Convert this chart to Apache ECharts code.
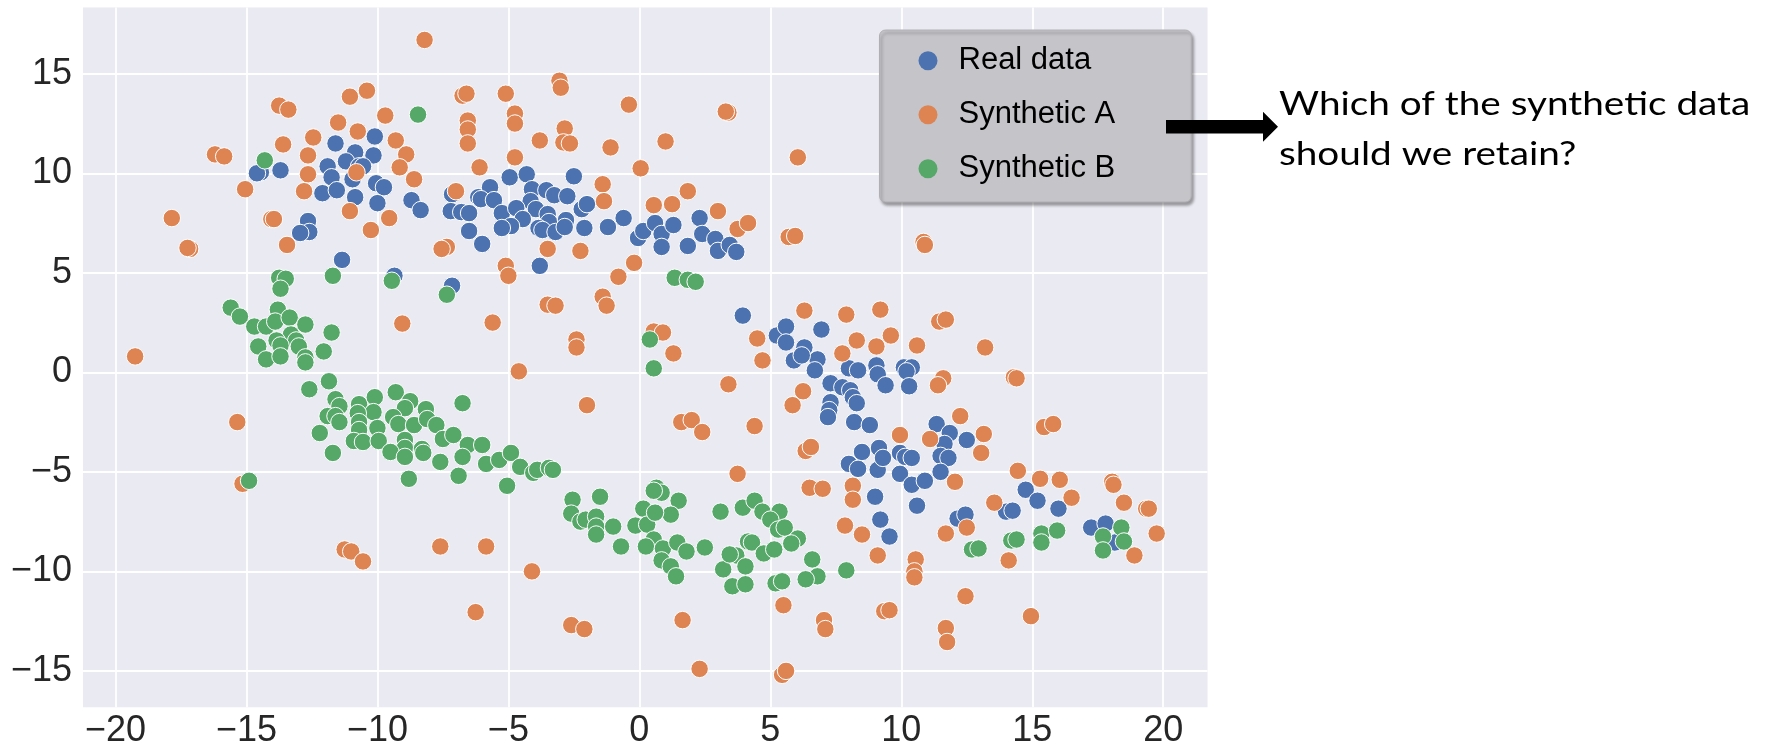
<!DOCTYPE html>
<html>
<head>
<meta charset="utf-8">
<script src="https://cdn.jsdelivr.net/npm/echarts@6/dist/echarts.min.js"></script>
<style>
html,body{margin:0;padding:0;background:#fff;}
#chart{width:1773px;height:750px;}
</style>
</head>
<body>
<div id="chart"></div>
<script>
// ---- data ----
const seriesNames = ['Real data', 'Synthetic A', 'Synthetic B'];
const xTicks = [-20, -15, -10, -5, 0, 5, 10, 15, 20];
const yTicks = [-15, -10, -5, 0, 5, 10, 15];

const realData = [
[-10.1,11.85],[-11.6,11.5],[-10.85,11.05],[-10.15,10.9],[-11.2,10.6],[-11.9,10.35],[-10.7,10.35],[-10.55,10.35],[-14.45,10.05],[-14.6,10.0],[-13.7,10.15],[-11.75,9.8],[-10.95,9.7],[-10.05,9.5],[-9.75,9.3],[-12.1,9.0],[-11.55,9.15],[-10.85,8.8],[-10.0,8.5],[-8.7,8.65],[-8.35,8.15],[-7.15,8.95],[-7.2,8.1],[-6.8,8.05],[-6.5,8.0],[-6.15,8.8],[-6.5,7.1],[-6.0,6.45],[-12.65,7.6],[-12.6,7.05],[-12.95,7.0],[-11.35,5.65],[-9.35,4.85],[-7.15,4.35],
[-2.5,9.85],[-4.95,9.8],[-4.3,9.95],[-5.7,9.3],[-6.05,8.7],[-5.55,8.65],[-4.1,9.2],[-3.55,9.15],[-3.25,8.9],[-4.15,8.6],[-3.95,8.2],[-2.75,8.85],[-5.25,8.0],[-4.7,8.25],[-4.45,7.7],[-4.9,7.35],[-5.25,7.25],[-3.5,7.95],[-3.45,7.55],[-3.85,7.25],[-3.7,7.15],[-3.2,7.05],[-2.8,7.65],[-2.85,7.3],[-2.2,8.2],[-2.0,8.45],[-2.1,7.25],[-1.2,7.3],[-0.6,7.75],[-3.8,5.35],[-0.05,6.75],[0.15,7.1],[0.6,7.5],[0.85,6.95],[0.85,6.3],[1.3,7.4],[1.85,6.35],[2.3,7.75],[2.4,6.95],[2.9,6.7],[3.0,6.1],[3.45,6.4],[3.7,6.05],
[3.95,2.85],[5.25,1.85],[5.6,2.3],[5.6,1.5],[6.3,1.25],[6.95,2.15],[5.9,0.6],[6.8,0.65],[6.7,0.1],[8.0,0.2],[8.35,0.1],[6.2,0.85],[7.3,-0.55],[7.75,-0.75],[8.05,-0.9],[8.15,-1.25],[8.3,-1.55],[7.3,-1.5],[7.25,-1.9],[7.2,-2.25],[8.2,-2.5],[8.8,-2.65],[8.5,-4.0],[8.0,-4.6],[8.35,-4.85],[9.05,0.35],[9.1,-0.1],[9.4,-0.65],[10.1,0.25],[10.4,0.25],[10.2,0.05],[10.3,-0.7],[9.1,-4.9],[9.15,-3.8],[9.3,-4.3],[9.95,-4.05],[10.15,-4.25],[10.4,-4.3],[9.95,-5.1],[10.4,-5.65],[10.9,-5.45],[9.0,-6.25],[9.2,-7.4],[9.55,-8.25],[10.6,-6.7],[11.35,-2.6],[11.85,-3.05],[12.5,-3.4],[11.65,-3.6],[11.5,-4.2],[11.8,-4.3],[11.5,-5.0],[12.15,-7.35],[12.45,-7.15],[14.75,-5.9],[15.2,-6.45],[14.0,-7.0],[14.25,-6.95],[16.0,-6.85],[17.25,-7.8],[17.8,-7.6],[18.15,-8.55]
];

const syntheticA = [
[-8.2,16.7],[-11.05,13.85],[-10.4,14.15],[-13.75,13.4],[-13.4,13.2],[-6.75,13.9],[-6.6,14.0],[-9.7,12.9],[-11.5,12.55],[-10.75,12.1],[-6.55,12.65],[-6.55,12.2],[-6.55,11.5],[-12.45,11.8],[-13.6,11.45],[-9.3,11.65],[-8.9,10.95],[-12.65,10.9],[-16.2,10.95],[-15.85,10.85],[-6.1,10.3],[-12.65,9.95],[-9.15,10.3],[-10.8,10.05],[-8.6,9.7],[-15.05,9.2],[-12.8,9.1],[-7.0,9.1],[-17.85,7.75],[-14.05,7.7],[-13.95,7.7],[-11.05,8.1],[-9.55,7.75],[-10.25,7.15],[-7.35,6.3],[-7.55,6.2],[-17.15,6.2],[-17.25,6.25],[-13.45,6.4],[-9.05,2.45],[-19.25,0.8],
[-15.35,-2.5],[-15.15,-5.6],[-11.25,-8.9],[-11.0,-9.0],[-10.55,-9.5],[-7.6,-8.75],[-5.85,-8.75],[-6.25,-12.05],
[-3.05,14.65],[-3.0,14.3],[-5.1,14.0],[-4.75,13.0],[-4.75,12.5],[-0.4,13.45],[3.4,13.05],[3.3,13.1],[-2.85,12.25],[-2.9,11.55],[-2.65,11.5],[-3.8,11.65],[-1.1,11.3],[1.0,11.6],[6.05,10.8],[-4.75,10.8],[0.05,10.25],[-1.4,9.45],[-1.35,8.6],[1.85,9.1],[0.55,8.4],[1.25,8.45],[3.0,8.1],[3.75,7.2],[4.15,7.5],[5.7,6.8],[5.95,6.85],[-3.5,6.2],[-2.25,6.1],[-5.1,5.35],[-5.0,4.85],[-0.2,5.5],[-0.8,4.8],[-3.5,3.4],[-3.2,3.35],[-1.4,3.8],[-1.25,3.35],[-5.6,2.5],[-2.4,1.65],[-2.4,1.25],[0.55,2.05],[0.9,2.0],[1.3,0.95],[-4.6,0.05],[6.3,3.1],[7.9,2.9],[4.5,1.7],[8.3,1.6],[7.75,0.95],[4.7,0.6],
[-2.0,-1.65],[3.4,-0.6],[1.6,-2.5],[2.0,-2.4],[2.4,-3.0],[4.4,-2.7],[6.25,-0.95],[5.85,-1.65],[6.35,-3.95],[6.55,-3.75],[3.75,-5.1],[6.5,-5.8],[7.0,-5.85],[8.15,-5.7],[8.15,-6.4],[7.85,-7.7],[8.5,-8.15],[-4.1,-10.0],
[-2.6,-12.7],[-2.1,-12.9],[1.65,-12.45],[2.3,-14.9],[5.45,-15.2],[5.6,-15.0],[5.5,-11.7],[7.05,-12.45],[7.1,-12.9],
[11.6,-0.3],[11.4,-0.65],[14.3,-0.25],[14.4,-0.3],[12.25,-2.2],[9.95,-3.15],[11.1,-3.35],[13.15,-3.1],[13.05,-4.05],[15.45,-2.75],[15.8,-2.6],[12.05,-5.5],[14.45,-4.95],[15.3,-5.35],[16.05,-5.4],[16.5,-6.3],[13.55,-6.55],[9.1,-9.2],[11.7,-8.1],[12.5,-7.8],[10.55,-9.4],[10.5,-10.0],[10.5,-10.3],[14.1,-9.45],[18.05,-5.5],[18.1,-5.65],[18.5,-6.55],[19.35,-6.85],[19.45,-6.85],[19.75,-8.1],[18.9,-9.2],[12.45,-11.25],[9.35,-12.0],[9.55,-11.95],[14.95,-12.25],[11.7,-12.85],[11.75,-13.55],
[10.85,6.55],[10.9,6.4],[9.2,3.15],[11.45,2.55],[11.7,2.65],[9.6,1.85],[9.05,1.3],[10.6,1.35],[13.2,1.25]
];

const syntheticB = [
[-8.45,12.95],[-14.3,10.65],[-11.7,4.85],[-9.45,4.6],[-7.35,3.9],[-13.75,4.75],[-13.5,4.7],[-13.7,4.2],[-15.6,3.25],[-15.25,2.8],[-14.7,2.3],[-14.25,2.3],[-13.8,3.15],[-13.9,2.55],[-13.35,2.75],[-12.75,2.4],[-11.75,2.0],[-13.3,1.9],[-13.1,1.6],[-13.0,1.3],[-13.85,1.6],[-13.7,1.35],[-14.55,1.3],[-14.25,0.65],[-13.7,0.8],[-12.75,0.75],[-12.75,0.5],[-12.05,1.05],
[-11.85,-0.45],[-12.6,-0.85],[-11.6,-1.35],[-11.45,-1.7],[-11.9,-2.2],[-11.6,-2.2],[-11.45,-2.5],[-12.2,-3.05],[-11.7,-4.05],[-10.7,-1.6],[-10.1,-1.25],[-10.15,-2.0],[-10.75,-2.05],[-10.7,-2.5],[-10.7,-2.9],[-10.9,-3.45],[-10.55,-3.5],[-10.0,-2.8],[-9.95,-3.45],[-9.3,-1.0],[-8.75,-1.45],[-8.95,-1.8],[-8.15,-1.85],[-9.4,-2.25],[-9.2,-2.6],[-8.6,-2.65],[-8.1,-2.35],[-7.75,-2.65],[-8.95,-3.4],[-8.95,-3.8],[-9.5,-4.0],[-8.95,-4.25],[-8.3,-3.85],[-8.25,-4.05],[-7.5,-3.35],[-7.1,-3.15],[-6.55,-3.65],[-6.75,-4.25],[-7.6,-4.5],[-6.9,-5.2],[-8.8,-5.35],[-6.75,-1.55],[-6.0,-3.65],[-5.85,-4.6],[-14.9,-5.45],
[-5.35,-4.4],[-4.9,-4.05],[-4.55,-4.75],[-4.05,-5.05],[-3.9,-4.9],[-3.45,-4.8],[-3.3,-4.9],[-5.05,-5.7],
[-2.55,-6.4],[-1.5,-6.25],[-2.6,-7.1],[-2.25,-7.5],[-2.05,-7.4],[-1.65,-7.25],[-1.65,-7.75],[-1.65,-8.15],[-1.0,-7.75],[-0.7,-8.75],
[0.65,-5.8],[0.85,-6.05],[0.55,-5.95],[1.5,-6.45],[1.2,-7.15],[0.15,-6.85],[-0.15,-7.7],[0.3,-7.65],[0.6,-7.05],[0.55,-8.4],[0.25,-8.75],[0.9,-8.85],[0.85,-9.45],[1.2,-9.75],[1.4,-10.25],[1.45,-8.55],[1.8,-9.0],[2.5,-8.8],
[3.1,-7.0],[3.2,-9.9],[3.55,-10.75],[4.05,-10.65],[3.7,-9.2],[3.45,-9.15],[4.05,-9.75],[4.15,-8.5],[4.3,-8.55],[3.95,-6.8],[4.4,-6.45],[4.7,-7.0],[5.35,-7.0],[5.0,-7.4],[5.3,-7.9],[5.55,-7.8],[6.05,-8.35],[5.8,-8.6],[4.75,-9.1],[5.15,-8.9],[6.6,-9.4],[6.8,-10.25],[6.35,-10.4],[5.2,-10.6],[5.45,-10.5],[7.9,-9.95],
[1.35,4.75],[1.85,4.65],[2.15,4.55],[0.4,1.65],[0.55,0.2],
[12.7,-8.9],[12.95,-8.85],[14.2,-8.45],[14.4,-8.4],[15.35,-8.1],[15.35,-8.55],[15.95,-7.95],[18.4,-7.8],[17.7,-8.25],[17.7,-8.95],[18.5,-8.5]
];

const annotationLines = ['Which of the synthetic data', 'should we retain?'];

// ---- chart ----
const colors = ['#4C72B0', '#DD8452', '#55A868'];
const seriesData = [realData, syntheticA, syntheticB];
const minus = v => String(v).replace('-', '\u2212');

const chart = echarts.init(document.getElementById('chart'), null, {renderer: 'canvas'});
const option = {
  animation: false,
  color: colors,
  grid: {
    left: 83, right: 565.5, top: 7.5, bottom: 42.7,
    show: true, backgroundColor: '#EAEAF2', borderWidth: 0,
    containLabel: false, outerBoundsMode: 'none'
  },
  xAxis: {
    type: 'value', min: -21.24, max: 21.69,
    splitNumber: 8, minInterval: 5, maxInterval: 5,
    axisLine: {show: false}, axisTick: {show: false},
    axisLabel: {
      show: true, fontSize: 36, fontFamily: 'Liberation Sans', color: '#262626',
      margin: 6, showMinLabel: false, showMaxLabel: false,
      formatter: v => xTicks.includes(v) ? minus(v) : ''
    },
    splitLine: {show: true, showMinLine: false, showMaxLine: false, lineStyle: {color: '#ffffff', width: 1.8}}
  },
  yAxis: {
    type: 'value', min: -16.83, max: 18.33,
    splitNumber: 7, minInterval: 5, maxInterval: 5,
    axisLine: {show: false}, axisTick: {show: false},
    axisLabel: {
      show: true, fontSize: 36, fontFamily: 'Liberation Sans', color: '#262626',
      margin: 11, showMinLabel: false, showMaxLabel: false,
      formatter: v => yTicks.includes(v) ? minus(v) : ''
    },
    splitLine: {show: true, showMinLine: false, showMaxLine: false, lineStyle: {color: '#ffffff', width: 1.8}}
  },
  legend: {
    orient: 'vertical', left: 879.5, top: 30,
    data: seriesNames,
    icon: 'circle',
    itemWidth: 51, itemHeight: 19, itemGap: 20,
    padding: [13.7, 76, 16.3, 39],
    backgroundColor: '#C4C4C9',
    borderColor: '#B0B0B4', borderWidth: 1, borderRadius: 6,
    shadowColor: 'rgba(0,0,0,0.35)', shadowBlur: 3, shadowOffsetX: 2, shadowOffsetY: 3,
    textStyle: {fontSize: 31, fontFamily: 'Liberation Sans', color: '#000', lineHeight: 34},
    itemStyle: {borderWidth: 0}
  },
  series: seriesNames.map((name, i) => ({
    name: name, type: 'scatter', data: seriesData[i],
    symbol: 'circle', symbolSize: 17.5,
    itemStyle: {color: colors[i], borderColor: '#ffffff', borderWidth: 1, opacity: 1},
    emphasis: {disabled: true},
    z: 2 + i
  })),
  graphic: [
    {
      type: 'polygon', z: 100,
      shape: {points: [[1166,120],[1263,120],[1263,111.7],[1278,126.7],[1263,141.7],[1263,133.5],[1166,133.5]]},
      style: {fill: '#000'}
    },
    {
      type: 'text', z: 100, x: 1279, y: 105, scaleX: 1.21,
      style: {text: annotationLines[0], fontSize: 32, fontFamily: 'Lato', fill: '#000', align: 'left', verticalAlign: 'middle'}
    },
    {
      type: 'text', z: 100, x: 1279, y: 155, scaleX: 1.21,
      style: {text: annotationLines[1], fontSize: 32, fontFamily: 'Lato', fill: '#000', align: 'left', verticalAlign: 'middle'}
    }
  ]
};
chart.setOption(option);
</script>
</body>
</html>
